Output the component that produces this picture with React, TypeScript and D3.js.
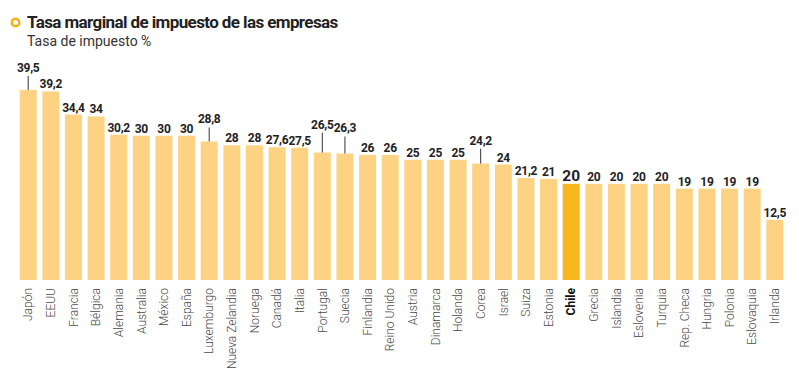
import React from "react";
import * as d3 from "d3";

const countries = ["Japón","EEUU","Francia","Bélgica","Alemania","Australia","México","España","Luxemburgo","Nueva Zelandia","Noruega","Canadá","Italia","Portugal","Suecia","Finlandia","Reino Unido","Austria","Dinamarca","Holanda","Corea","Israel","Suiza","Estonia","Chile","Grecia","Islandia","Eslovenia","Turquia","Rep. Checa","Hungria","Polonia","Eslovaquia","Irlanda"];
const rates = [39.5,39.2,34.4,34,30.2,30,30,30,28.8,28,28,27.6,27.5,26.5,26.3,26,26,25,25,25,24.2,24,21.2,21,20,20,20,20,20,19,19,19,19,12.5];
const highlight = "Chile";
const leaderCountries = ["Japón","Luxemburgo","Portugal","Suecia","Corea"];
const leaderLengths = [14, 14, 20, 17, 15];

const title = "Tasa marginal de impuesto de las empresas";
const subtitle = "Tasa de impuesto %";

const W = 799, H = 377;
const base = 280;

export default function App() {
  const x = d3.scaleBand<string>().domain(countries).range([17, 786]).paddingInner(0.25).paddingOuter(0.12);
  const y = d3.scaleLinear().domain([0, 39.5]).range([base, 90]);
  const fmt = (v: number) => String(v).replace(".", ",");
  const font = "Roboto, 'Liberation Sans', sans-serif";
  return (
    <svg width={W} height={H} style={{ position: "absolute", left: 0, top: 0, background: "#fff" }}>
      <circle cx={15.5} cy={22.5} r={3.8} fill="none" stroke="#f5b21a" strokeWidth={2.6} />
      <text x={27} y={28} fontFamily={font} fontWeight={700} fontSize={17} fill="#222" letterSpacing={-0.6}>{title}</text>
      <text x={27} y={46} fontFamily={font} fontSize={14} fill="#333">{subtitle}</text>
      {countries.map((c, i) => {
        const v = rates[i];
        const bx = x(c)!;
        const bw = x.bandwidth();
        const cx = bx + bw / 2;
        const top = y(v);
        const isHi = c === highlight;
        const li = leaderCountries.indexOf(c);
        const lead = li >= 0 ? leaderLengths[li] : 0;
        return (
          <g key={c}>
            <rect x={bx} y={top} width={bw} height={base - top} fill={isHi ? "#f8b71f" : "#fdd383"} />
            {lead > 0 && <line x1={cx} x2={cx} y1={top} y2={top - lead} stroke="#333" strokeWidth={1} />}
            <text x={cx} y={top - 3 - (lead > 0 ? lead + 1 : 0)} textAnchor="middle" fontFamily={font} fontWeight={700}
              fontSize={isHi ? 15.5 : 12} letterSpacing={isHi ? 0 : -0.3} fill="#222">{fmt(v)}</text>
            <text transform={`translate(${cx},${base + 8}) rotate(-90)`} textAnchor="end" dy="0.35em"
              fontFamily={font} fontWeight={isHi ? 700 : 300} fontSize={12} fill={isHi ? "#111" : "#4a4a4a"}>{c}</text>
          </g>
        );
      })}
    </svg>
  );
}
